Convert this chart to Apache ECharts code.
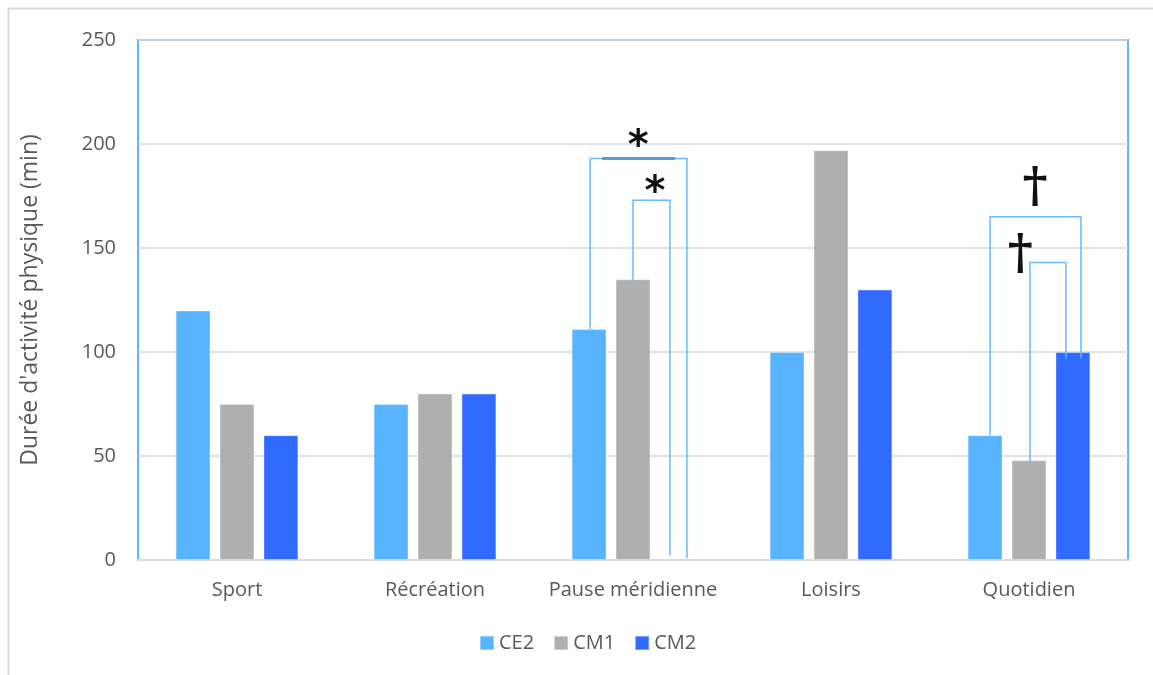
<!DOCTYPE html>
<html>
<head>
<meta charset="utf-8">
<script src="https://cdn.jsdelivr.net/npm/echarts@6/dist/echarts.min.js"></script>
<style>html,body{margin:0;padding:0;background:#fff;}#c{width:1153px;height:675px;}</style>
</head>
<body>
<div id="c"></div>
<script>
// ---- data ----
var categories = ['Sport', 'Récréation', 'Pause méridienne', 'Loisirs', 'Quotidien'];
var seriesNames = ['CE2', 'CM1', 'CM2'];
var ce2 = [120, 75, 111, 100, 60];
var cm1 = [75, 80, 135, 197, 48];
var cm2 = [60, 80, null, 130, 100];
var yTicks = [0, 50, 100, 150, 200, 250];
// brackets: [categoryIndex, fromBar, toBar, topValue, fromValue, toValue]
var brackets = [
  [2, 0, 2, 193, 111, 1],
  [2, 1, 2, 173, 134, 2],
  [4, 0, 2, 165, 60, 97],
  [4, 1, 2, 143, 47, 97]
];
// significance marks: [categoryIndex, barPosition, value, symbol]
var marks = [
  [2, 1.12, 203, '*'],
  [2, 1.5, 181, '*'],
  [4, 1.14, 179, '†'],
  [4, 0.8, 147, '†']
];

// ---- style (pixel nudges, not data) ----
var bracketNudges = [[1, 10], [0, -7], [5, 8], [1, -7]];
var colors = ['#59b4ff', '#afafaf', '#316aff'];
var CAT_GAP = 0.38, BAR_GAP = 0.26;
var FONT = '"Open Sans", Lato, sans-serif';

function barCenter(api, cat, barPos) {
  var band = api.size([1, 0])[0];
  var bw = band * (1 - CAT_GAP) / (3 + 2 * BAR_GAP);
  var c = api.coord([cat, 0])[0];
  return c + (barPos - 1) * bw * (1 + BAR_GAP);
}

var chart = echarts.init(document.getElementById('c'), null, {renderer: 'canvas'});

var barSeries = [ce2, cm1, cm2].map(function (d, i) {
  return {
    name: seriesNames[i], type: 'bar', data: d,
    barGap: (BAR_GAP * 100) + '%', barCategoryGap: (CAT_GAP * 100) + '%',
    itemStyle: {color: colors[i], borderColor: 'rgba(255,255,255,0.35)', borderWidth: 1},
    z: 2
  };
});

var bracketSeries = {
  type: 'custom', silent: true, z: 5,
  data: brackets.map(function (b, i) { return b.concat([i]); }),
  encode: {x: 0, y: 3},
  renderItem: function (params, api) {
    var cat = api.value(0), fb = api.value(1), tb = api.value(2);
    var idx = api.value(6);
    var n = bracketNudges[idx];
    var x1 = barCenter(api, cat, fb) + n[0];
    var x2 = barCenter(api, cat, tb) + n[1];
    var yt = api.coord([cat, api.value(3)])[1];
    var y1 = api.coord([cat, api.value(4)])[1];
    var y2 = api.coord([cat, api.value(5)])[1];
    var children = [{
      type: 'polyline',
      shape: {points: [[x1, y1], [x1, yt], [x2, yt], [x2, y2]]},
      style: {stroke: '#69b9ff', lineWidth: 1.5, fill: null}
    }];
    if (idx === 0) {
      children.push({
        type: 'line',
        shape: {x1: x1 + 12, y1: yt, x2: x2 - 12, y2: yt},
        style: {stroke: '#5b9bd5', lineWidth: 3}
      });
    }
    return {type: 'group', children: children};
  }
};

var markSeries = {
  type: 'custom', silent: true, z: 6,
  data: marks,
  encode: {x: 0, y: 2},
  renderItem: function (params, api) {
    var cat = api.value(0);
    var x = barCenter(api, cat, api.value(1));
    var y = api.coord([cat, api.value(2)])[1];
    var sym = marks[params.dataIndex][3];
    var isStar = sym === '*';
    return {
      type: 'text',
      style: {
        x: x, y: isStar ? y + 10 : y + 2,
        text: sym,
        fill: '#111',
        font: isStar ? 'bold 40px "DejaVu Sans", sans-serif' : 'bold 48px "DejaVu Serif", serif',
        textAlign: 'center', textVerticalAlign: 'middle'
      }
    };
  }
};

chart.setOption({
  animation: false,
  backgroundColor: '#fff',
  textStyle: {fontFamily: FONT},
  graphic: [{
    type: 'rect', silent: true, z: -10,
    shape: {x: 8.5, y: 8.5, width: 1200, height: 800},
    style: {fill: null, stroke: '#d9d9d9', lineWidth: 2}
  }],
  legend: {
    data: seriesNames, top: 633, left: 479, padding: 0,
    itemWidth: 14, itemHeight: 14, itemGap: 19, icon: 'rect',
    textStyle: {fontSize: 20, color: '#595959', fontFamily: FONT}
  },
  grid: {
    left: 138, right: 25, top: 40, bottom: 115,
    show: true, borderColor: '#62b6ff', borderWidth: 2, backgroundColor: 'transparent'
  },
  xAxis: {
    type: 'category', data: categories,
    axisTick: {show: false},
    axisLine: {show: true, lineStyle: {color: '#d6dce4', width: 2}},
    axisLabel: {fontSize: 20, color: '#595959', margin: 20, interval: 0, fontFamily: FONT}
  },
  yAxis: {
    type: 'value', min: yTicks[0], max: yTicks[yTicks.length - 1], interval: yTicks[1] - yTicks[0],
    name: "Durée d'activité physique (min)", nameLocation: 'middle', nameGap: 96,
    nameTextStyle: {fontSize: 23, color: '#595959', fontFamily: FONT},
    axisLine: {show: false}, axisTick: {show: false},
    axisLabel: {fontSize: 20, color: '#595959', margin: 22, fontFamily: FONT},
    splitLine: {lineStyle: {color: '#d9d9d9', width: 1.5}}
  },
  series: barSeries.concat([bracketSeries, markSeries])
});
</script>
</body>
</html>
